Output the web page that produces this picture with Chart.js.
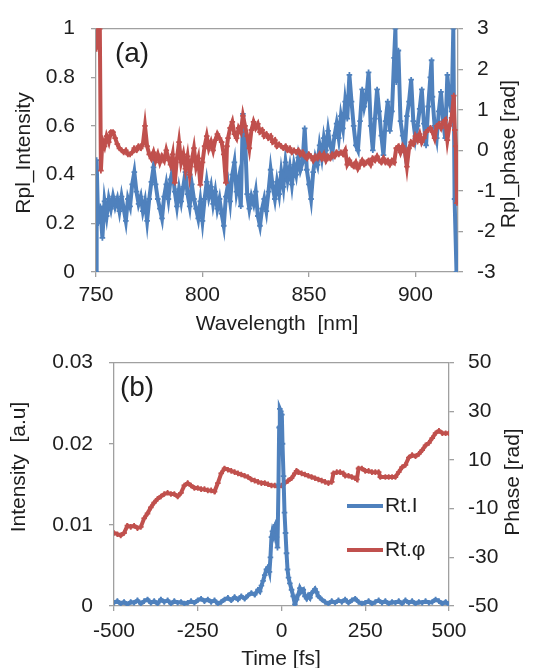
<!DOCTYPE html>
<html><head><meta charset="utf-8">
<script src="https://cdn.jsdelivr.net/npm/chart.js@4/dist/chart.umd.min.js"></script>
<style>
html,body{margin:0;padding:0;background:#fff;}
#wrap{position:relative;width:534px;height:668px;overflow:hidden;}
canvas{position:absolute;left:0;}
</style></head><body>
<div id="wrap">
<canvas id="ca" width="534" height="334" style="top:0"></canvas>
<canvas id="cb" width="534" height="334" style="top:334px"></canvas>
</div>
<script>
// ---------- Panel (a) data ----------
const aIntensityX = [750,750.3,751,752,753,754,755,756,757,758,759,760,761,762,763,764,765,766,767,768,769,770,771,772,773,774,775,776,777,778,779,780,781,782,783,784,785,786,787,788,789,790,791,792,793,794,795,796,797,798,799,800,801,802,803,804,805,806,807,808,809,810,811,812,813,814,815,816,817,818,819,820,821,822,823,824,825,826,827,828,829,830,831,832,833,834,835,836,837,838,839,840,841,842,843,844,845,846,847,848,849,850,851,852,853,854,855,856,857,858,859,860,861,862,863,864,865,866,867,868,869,870,871,872,873,874,875,876,877,878,879,880,881,882,883,884,885,886,887,888,889,890,890.6,891,892,893,894,895,896,897,898,899,900,901,902,903,904,905,906,907,907.6,908,909,910,911,912,913,914,915,916,917,917.8,918.4,919.3];
const aIntensityY = [0.00,0.46,0.20,0.27,0.14,0.29,0.23,0.30,0.26,0.31,0.27,0.30,0.25,0.31,0.26,0.21,0.30,0.27,0.36,0.41,0.33,0.28,0.31,0.25,0.29,0.21,0.30,0.37,0.43,0.36,0.30,0.26,0.22,0.31,0.36,0.30,0.38,0.42,0.33,0.27,0.34,0.29,0.35,0.41,0.32,0.27,0.36,0.30,0.26,0.22,0.29,0.21,0.30,0.37,0.31,0.35,0.28,0.33,0.26,0.30,0.24,0.19,0.31,0.36,0.29,0.40,0.45,0.33,0.38,0.27,0.65,0.55,0.32,0.26,0.31,0.28,0.33,0.23,0.19,0.26,0.30,0.25,0.33,0.42,0.35,0.30,0.37,0.32,0.41,0.35,0.45,0.38,0.43,0.36,0.44,0.40,0.47,0.42,0.45,0.59,0.42,0.36,0.30,0.41,0.47,0.44,0.52,0.47,0.55,0.50,0.58,0.52,0.49,0.56,0.61,0.55,0.64,0.59,0.70,0.63,0.81,0.70,0.60,0.52,0.50,0.62,0.75,0.68,0.72,0.82,0.60,0.50,0.63,0.75,0.66,0.56,0.48,0.62,0.70,0.58,0.66,0.88,1.00,0.78,0.91,0.62,0.56,0.50,0.64,0.70,0.79,0.62,0.55,0.60,0.67,0.75,0.61,0.52,0.68,0.80,0.87,0.72,0.60,0.55,0.66,0.74,0.62,0.55,0.81,0.70,0.66,1.00,0.30,0.00];
const aPhaseX = [750.3,751,751.8,752.3,753,754,755,756,757,758,759,760,761,762,763,764,765,766,767,768,769,770,771,772,773,774,775,776,777,778,779,780,781,782,783,784,785,786,787,788,789,790,791,792,793,794,795,796,797,798,799,800,801,802,803,804,805,806,807,808,809,810,811,811.5,812,813,814,815,816,817,818,819,820,821,822,823,824,825,826,827,828,829,830,831,832,833,834,835,836,837,838,839,840,841,842,843,844,845,846,847,848,849,850,851,852,853,854,855,856,857,858,859,860,861,862,863,864,865,866,867,868,869,870,871,872,873,874,875,876,877,878,879,880,881,882,883,884,885,886,887,888,889,890,891,892,893,894,895,896,897,898,899,900,901,902,903,904,905,906,907,908,909,910,911,912,913,914,915,916,917,918,918.5,919,919.5];
const aPhaseY = [2.5,3.0,3.0,-0.5,0.25,0.1,0.35,0.2,0.45,0.45,0.3,0.15,0.05,0.0,-0.05,0.0,-0.1,-0.1,-0.05,0.05,0.0,0.1,0.05,0.15,0.6,0.1,-0.1,-0.2,-0.05,-0.25,-0.1,-0.3,-0.15,-0.25,0.0,-0.2,-0.35,-0.1,-0.8,-0.2,0.2,-0.3,-0.1,-0.45,-0.15,-0.6,-0.25,0.05,-0.4,-0.2,-0.85,-0.3,0.1,0.35,0.05,0.2,0.0,0.25,0.4,0.3,0.2,-0.1,-0.8,0.1,0.3,0.55,0.7,0.4,0.3,0.55,0.45,0.85,0.6,0.35,0.05,0.5,0.7,0.55,0.65,0.45,0.5,0.35,0.4,0.3,0.35,0.2,0.25,0.1,0.15,0.1,0.05,0.1,0.0,0.05,-0.05,0.0,-0.05,0.0,-0.1,-0.05,-0.15,-0.2,-0.1,-0.15,-0.25,-0.15,-0.2,-0.1,-0.2,-0.1,-0.25,-0.15,-0.2,-0.1,-0.15,-0.05,-0.1,-0.05,-0.1,0.0,-0.35,-0.25,-0.35,-0.4,-0.3,-0.45,-0.35,-0.25,-0.35,-0.3,-0.25,-0.35,-0.2,-0.25,-0.15,-0.25,-0.3,-0.2,-0.3,-0.25,-0.35,-0.25,-0.3,0.05,0.1,-0.05,0.1,0.0,-0.4,0.05,0.2,0.15,0.35,0.25,0.4,0.2,0.3,0.45,0.5,0.55,0.45,0.3,0.6,0.65,0.55,0.7,0.75,0.25,0.6,0.8,1.35,0.5,0.1,-1.3];
const aXTicks = [750,800,850,900];
const aYLeftTicks = [0,0.2,0.4,0.6,0.8,1];
const aYRightTicks = [-3,-2,-1,0,1,2,3];

// ---------- Panel (b) data ----------
const bIntensityX = [-500,-490,-480,-470,-460,-450,-440,-430,-420,-410,-400,-390,-380,-370,-360,-350,-340,-330,-320,-310,-300,-290,-280,-270,-260,-250,-240,-230,-220,-210,-200,-190,-180,-170,-160,-150,-140,-130,-120,-110,-100,-90,-80,-70,-65,-60,-55,-50,-45,-40,-36,-33,-30,-27,-24,-21,-18,-15,-12,-9,-7,-5,-2,1,3,6,9,12,15,18,21,25,30,35,40,45,50,55,60,65,70,75,80,85,90,100,105,110,120,130,140,150,160,170,180,190,200,210,220,230,240,250,260,270,280,290,300,310,320,330,340,350,360,370,380,390,400,410,420,430,440,450,460,470,480,490,500];
const bIntensityY = [0.0004,0.0006,0.0003,0.0005,0.0002,0.0005,0.0004,0.0007,0.0003,0.0006,0.0008,0.0004,0.0006,0.0003,0.0008,0.0005,0.0007,0.0003,0.0006,0.0004,0.0005,0.0003,0.0004,0.0006,0.0004,0.0007,0.0009,0.0006,0.0008,0.0005,0.0007,0.0003,0.0005,0.0008,0.0010,0.0007,0.0011,0.0008,0.0012,0.0009,0.0013,0.0016,0.0014,0.0020,0.0018,0.0025,0.0031,0.0038,0.0045,0.0048,0.0042,0.0060,0.0085,0.0092,0.0088,0.0097,0.0100,0.0085,0.0072,0.0150,0.0220,0.0243,0.0240,0.0236,0.0200,0.0160,0.0115,0.0090,0.0065,0.0045,0.0035,0.0028,0.0020,0.0012,0.0002,0.0008,0.0014,0.0022,0.0018,0.0020,0.0012,0.0009,0.0013,0.0010,0.0016,0.0021,0.0017,0.0012,0.0008,0.0005,0.0003,0.0006,0.0004,0.0007,0.0005,0.0008,0.0004,0.0007,0.0009,0.0005,0.0003,0.0004,0.0006,0.0003,0.0005,0.0007,0.0004,0.0006,0.0003,0.0005,0.0004,0.0006,0.0003,0.0007,0.0004,0.0006,0.0003,0.0005,0.0004,0.0006,0.0004,0.0005,0.0008,0.0006,0.0003,0.0005,0.0002];
const bPhaseX = [-500,-490,-480,-470,-460,-450,-440,-430,-420,-410,-400,-390,-380,-370,-360,-350,-340,-330,-320,-310,-300,-290,-280,-270,-260,-250,-240,-230,-220,-210,-200,-190,-180,-170,-160,-150,-140,-130,-120,-110,-100,-90,-80,-70,-60,-50,-40,-30,-20,-10,0,10,20,30,40,45,50,60,70,80,90,100,110,120,130,140,150,155,165,175,185,190,200,210,220,225,230,240,250,260,270,280,290,295,310,320,330,340,350,360,370,380,390,400,410,420,430,440,450,460,470,480,490,500];
const bPhaseY = [-20,-20.5,-21,-20,-17,-17.5,-17,-18,-17.5,-14,-12,-9.5,-7.5,-6,-5,-4,-3.5,-4,-4,-5,-3.5,-0.5,0.5,-0.5,-1.5,-1.5,-2,-2,-2.5,-2.5,-3,0.5,4.5,6.5,6,5.5,5,4.5,4,3.5,3,2,1.5,1,0.5,0.5,0,-0.5,-0.5,-1,-0.5,0.5,1.5,2.5,4.5,5.5,5,4.5,4,3.5,3,2.5,2,1.5,1,0.5,1,4.5,5,5,4.5,3.5,3.5,3,2.5,2,6.5,6.5,5.5,5.5,5,5,5,3,3,3,3,3,5,7,8,11,12,11.5,12.5,14,16,17,19,21,22,21,21,21];
const bXTicks = [-500,-250,0,250,500];
const bYLeftTicks = [0,0.01,0.02,0.03];
const bYRightTicks = [-50,-30,-10,10,30,50];

const seriesNames = {aI:'Rpl_Intensity', aP:'Rpl_phase', bI:'Rt.I', bP:'Rt.φ'};

// ---------- styling ----------
const BLUE = '#4F81BD', RED = '#C0504D', AXIS = '#a0a0a0', TEXT = '#1e1e1e';
const FAMILY = "'Liberation Sans', Arial, sans-serif";
Chart.defaults.font.family = FAMILY;
Chart.defaults.font.size = 21;
Chart.defaults.color = TEXT;

const pts = (xs, ys) => xs.map((x, i) => ({x, y: ys[i]}));
const fixTicks = arr => axis => { axis.ticks = arr.map(v => ({value: v})); };
const fixW = w => axis => { axis.width = w; };
const fixH = h => axis => { axis.height = h; };

function lineDs(label, data, color, axis) {
  return {label, data, yAxisID: axis, borderColor: color, backgroundColor: color,
    borderWidth: 4, pointStyle: 'cross', pointRadius: 2.8, pointBorderWidth: 1.8,
    pointBorderColor: color, pointHoverRadius: 0, tension: 0, fill: false};
}

function axisCommon(pad) {
  return {
    grid: {drawOnChartArea: false, drawTicks: true, tickLength: 5, color: AXIS, lineWidth: 1.3},
    border: {display: true, color: AXIS, width: 1.3},
    ticks: {padding: pad, color: TEXT, font: {size: 21}, callback: v => String(v)}
  };
}

function makeDecor(cfg) {
  return {
    id: 'decor',
    beforeDatasetsDraw(chart) {
      const {ctx, chartArea: a} = chart;
      ctx.save();
      ctx.strokeStyle = AXIS; ctx.lineWidth = 1.3;
      ctx.beginPath(); ctx.moveTo(a.left, a.top); ctx.lineTo(a.right, a.top); ctx.stroke();
      ctx.restore();
    },
    afterDraw(chart) {
      const ctx = chart.ctx;
      ctx.save();
      ctx.fillStyle = TEXT;
      ctx.textAlign = 'center'; ctx.textBaseline = 'middle';
      for (const t of cfg.texts) {
        ctx.save();
        ctx.translate(t.x, t.y);
        if (t.rot) ctx.rotate(t.rot);
        ctx.font = (t.size || 21) + 'px ' + FAMILY;
        ctx.fillText(t.text, 0, 0);
        ctx.restore();
      }
      if (cfg.legend) {
        const L = cfg.legend;
        L.order.forEach((di, k) => {
          const ds = chart.data.datasets[di];
          const y = L.y + k * L.gap;
          ctx.strokeStyle = ds.borderColor; ctx.lineWidth = 4;
          ctx.beginPath(); ctx.moveTo(L.x, y); ctx.lineTo(L.x + L.len, y); ctx.stroke();
          ctx.fillStyle = TEXT; ctx.textAlign = 'left';
          ctx.font = '21px ' + FAMILY;
          ctx.fillText(ds.label, L.x + L.len + 2, y);
        });
      }
      ctx.restore();
    }
  };
}

// ---------- Chart (a) ----------
new Chart(document.getElementById('ca'), {
  type: 'line',
  data: {datasets: [
    lineDs(seriesNames.aP, pts(aPhaseX, aPhaseY), RED, 'yR'),
    lineDs(seriesNames.aI, pts(aIntensityX, aIntensityY), BLUE, 'yL')
  ]},
  options: {
    responsive: false, animation: false, devicePixelRatio: 1,
    layout: {padding: {top: 22, left: 0, right: 0, bottom: 0}},
    plugins: {legend: {display: false}, tooltip: {enabled: false}},
    scales: {
      x: Object.assign(axisCommon(6), {type: 'linear', position: 'bottom', min: 750, max: 920,
        afterBuildTicks: fixTicks(aXTicks), afterFit: fixH(62)}),
      yL: Object.assign(axisCommon(16), {type: 'linear', position: 'left', min: 0, max: 1,
        afterBuildTicks: fixTicks(aYLeftTicks), afterFit: fixW(96)}),
      yR: Object.assign(axisCommon(14), {type: 'linear', position: 'right', min: -3, max: 3,
        afterBuildTicks: fixTicks(aYRightTicks), afterFit: fixW(76)})
    }
  },
  plugins: [makeDecor({
    texts: [
      {text: 'Rpl_Intensity', x: 24, y: 153, rot: -Math.PI / 2},
      {text: 'Rpl_phase [rad]', x: 509, y: 154, rot: -Math.PI / 2},
      {text: 'Wavelength  [nm]', x: 277, y: 324},
      {text: '(a)', x: 132, y: 54, size: 28}
    ]
  })]
});

// ---------- Chart (b) ----------
new Chart(document.getElementById('cb'), {
  type: 'line',
  data: {datasets: [
    lineDs(seriesNames.bI, pts(bIntensityX, bIntensityY), BLUE, 'yL'),
    lineDs(seriesNames.bP, pts(bPhaseX, bPhaseY), RED, 'yR')
  ]},
  options: {
    responsive: false, animation: false, devicePixelRatio: 1,
    layout: {padding: {top: 21, left: 0, right: 0, bottom: 0}},
    plugins: {legend: {display: false}, tooltip: {enabled: false}},
    scales: {
      x: Object.assign(axisCommon(8), {type: 'linear', position: 'bottom', min: -500, max: 500,
        afterBuildTicks: fixTicks(bXTicks), afterFit: fixH(62)}),
      yL: Object.assign(axisCommon(16), {type: 'linear', position: 'left', min: 0, max: 0.03,
        afterBuildTicks: fixTicks(bYLeftTicks), afterFit: fixW(114)}),
      yR: Object.assign(axisCommon(14), {type: 'linear', position: 'right', min: -50, max: 50,
        afterBuildTicks: fixTicks(bYRightTicks), afterFit: fixW(85)})
    }
  },
  plugins: [makeDecor({
    texts: [
      {text: 'Intensity  [a.u]', x: 19, y: 133, rot: -Math.PI / 2},
      {text: 'Phase [rad]', x: 513, y: 148, rot: -Math.PI / 2},
      {text: 'Time [fs]', x: 281, y: 325},
      {text: '(b)', x: 137, y: 54, size: 28}
    ],
    legend: {order: [0, 1], x: 347, y: 172, gap: 44, len: 36}
  })]
});
</script>
</body></html>
